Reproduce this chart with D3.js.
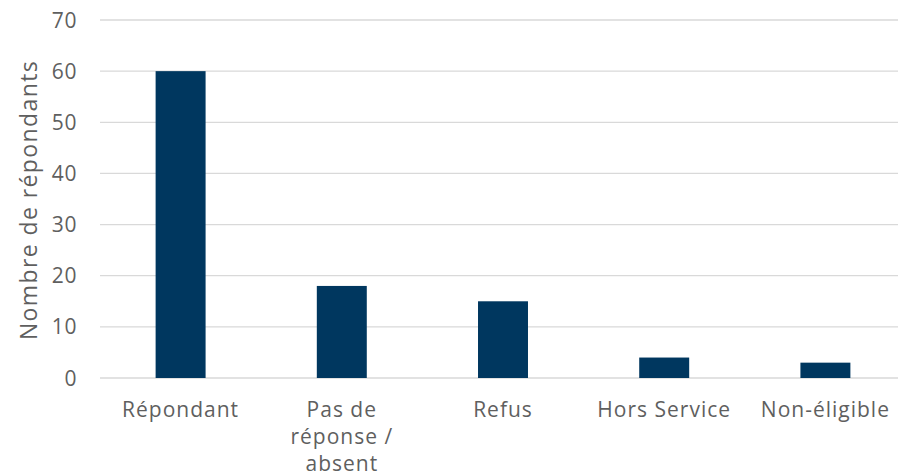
<!DOCTYPE html>
<html>
<head>
<meta charset="utf-8">
<script src="https://cdn.jsdelivr.net/npm/d3@7"></script>
<style>
  body { margin: 0; background: #fff; }
  text { font-family: "Open Sans", sans-serif; fill: #5f5f5f; }
</style>
</head>
<body>
<svg id="main" width="898" height="476"></svg>
<script>
var categories = [["Répondant"], ["Pas de", "réponse /", "absent"], ["Refus"], ["Hors Service"], ["Non-éligible"]];
var values = [60, 18, 15, 4, 3];
var yTicks = [0, 10, 20, 30, 40, 50, 60, 70];
var yTitle = "Nombre de répondants";

var svg = d3.select("#main");
var margin = {top: 20, right: 0, bottom: 98, left: 100},
    width = 806,
    height = 358;

var g = svg.append("g")
    .attr("transform", "translate(" + margin.left + "," + margin.top + ")");

var xScale = d3.scaleBand()
        .domain(d3.range(categories.length))
        .range([0, width])
        .paddingInner(0.69)
        .paddingOuter(0.345),
    yScale = d3.scaleLinear()
        .domain([0, 70])
        .range([height, 0]);

// grid
g.selectAll(".grid")
    .data(yTicks)
    .enter().append("line")
    .attr("x1", 0)
    .attr("x2", width)
    .attr("y1", function(d) { return yScale(d); })
    .attr("y2", function(d) { return yScale(d); })
    .attr("stroke", "#d9d9d9")
    .attr("stroke-width", 1.3);

// y tick labels
g.selectAll(".ylab")
    .data(yTicks)
    .enter().append("text")
    .attr("x", -23)
    .attr("y", function(d) { return yScale(d); })
    .attr("dy", "0.36em")
    .attr("text-anchor", "end")
    .style("font-size", "21px")
    .style("letter-spacing", "0.6px")
    .text(function(d) { return d; });

// bars
g.selectAll(".bar")
    .data(values)
    .enter().append("rect")
    .attr("x", function(d, i) { return xScale(i); })
    .attr("y", function(d) { return yScale(d); })
    .attr("width", xScale.bandwidth())
    .attr("height", function(d) { return height - yScale(d); })
    .attr("fill", "#00375f");

// category labels
var lab = g.selectAll(".xlab")
    .data(categories)
    .enter().append("text")
    .attr("text-anchor", "middle")
    .style("font-size", "21px")
    .style("letter-spacing", "1px")
    .attr("transform", function(d, i) {
        return "translate(" + (xScale(i) + xScale.bandwidth() / 2) + "," + (height + 39) + ")";
    });
lab.selectAll("tspan")
    .data(function(d) { return d; })
    .enter().append("tspan")
    .attr("x", 0)
    .attr("dy", function(d, i) { return i ? 27 : 0; })
    .text(function(d) { return d; });

// y title
svg.append("text")
    .attr("transform", "translate(37," + 200 + ") rotate(-90)")
    .attr("text-anchor", "middle")
    .style("font-size", "23px")
    .style("letter-spacing", "1.4px")
    .text(yTitle);
</script>
</body>
</html>
